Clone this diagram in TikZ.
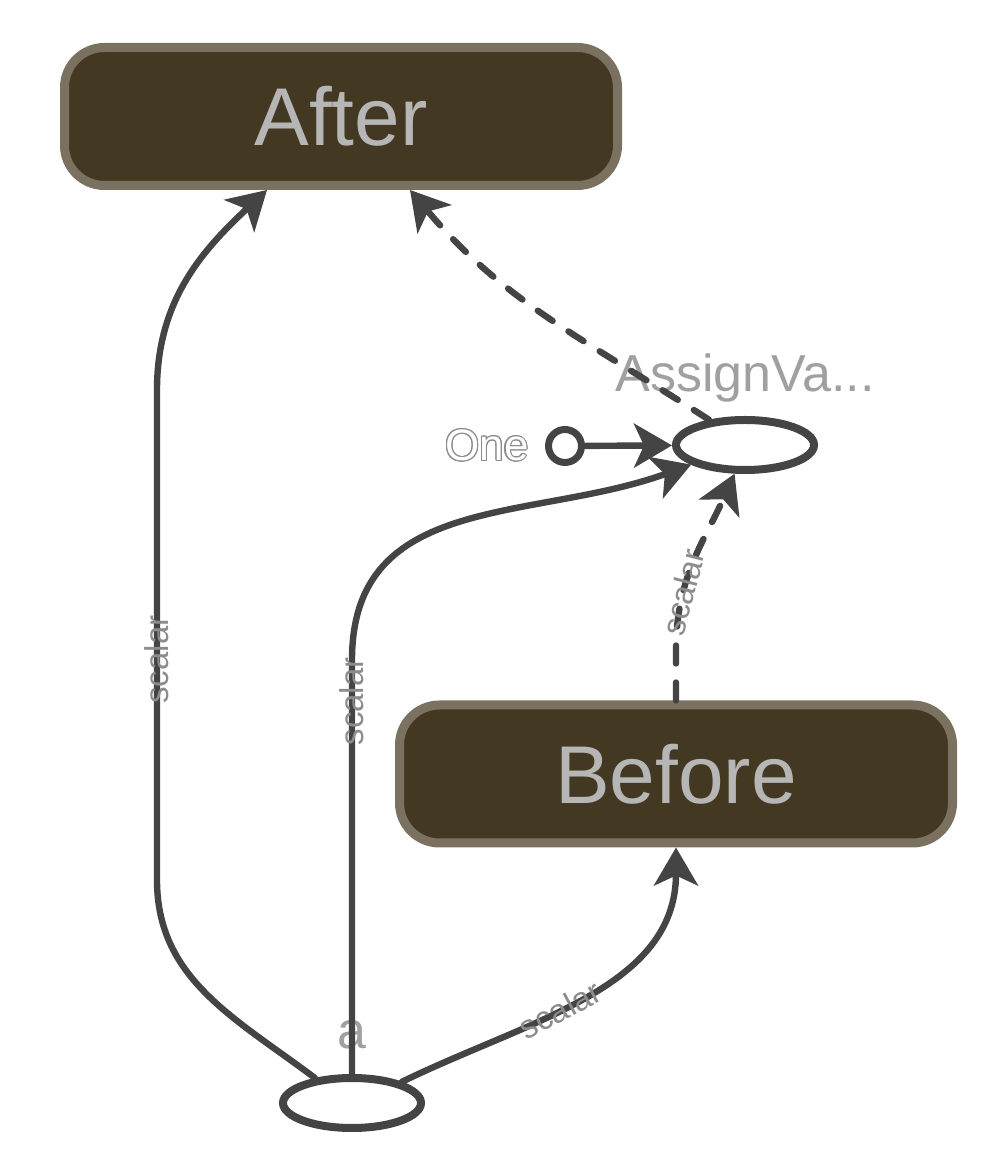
\documentclass[tikz,border=0pt]{standalone}
\usepackage{fontspec}
\setmainfont{Liberation Sans}
\usepackage{contour}
\contourlength{0.6pt}
\usetikzlibrary{arrows.meta,shapes.geometric}
\definecolor{boxfill}{RGB}{67,57,35}
\definecolor{boxline}{RGB}{122,113,96}
\definecolor{boxtext}{RGB}{182,182,182}
\definecolor{edgegray}{RGB}{68,68,68}
\definecolor{labelgray}{RGB}{140,140,140}
\definecolor{namegray}{RGB}{160,160,160}

\begin{document}
\begin{tikzpicture}[x=0.5pt,y=0.5pt,
	every node/.style={font=\fontsize{16.5}{16.5}\selectfont},
	cluster/.style={draw=boxline,fill=boxfill,line width=4.5pt,rounded corners=20pt,minimum width=276.5pt,minimum height=69pt,text=boxtext,font=\fontsize{41}{41}\selectfont},
	op/.style={draw=edgegray,ellipse,line width=4pt,minimum width=69pt,minimum height=25pt,inner sep=0pt},
	port/.style={draw=edgegray,circle,line width=3.5pt,minimum size=16.5pt,inner sep=0pt},
	flow/.style={draw=edgegray,line width=3.2pt,line cap=round,-{Stealth[length=19pt,width=22pt,inset=5pt]}},
	ctrl/.style={flow,dash pattern=on 9pt off 9.5pt},
	tag/.style={sloped,text=labelgray,inner sep=1pt}]
	\useasboundingbox (0,0) rectangle (986,1156);

	\node[cluster] (After) at (341,1039.5) {After};
	\node[cluster] (Before) at (676,382) {Before};
	\node[op] (assign) at (745,711) {};
	\node[op] (a) at (352,53) {};
	\node[port] (one) at (565,710) {};

	\node[text=namegray,font=\fontsize{26}{26}\selectfont] (assignname) at (745,778) {AssignVa...};
	\node[text=white,font=\fontsize{22}{22}\selectfont] (onename) at (487,710) {\contour{labelgray}{One}};
	\node[text=namegray,font=\fontsize{26}{26}\selectfont] (aname) at (352,121) {a};

	\draw[flow] (a.146) to[out=143,in=-90] (157,276) -- (157,766) node[tag,pos=.45]{scalar} to[out=90,in=-137] ([xshift=-37pt]After.south);
	\draw[flow] (a.north) -- (352,496) node[tag,pos=.9]{scalar} to[out=90,in=200,looseness=1.1] (assign.200);
	\draw[flow] (a.23) to[out=26,in=-90] node[tag,pos=.42]{scalar} (Before.south);
	\draw[ctrl] (Before.north) -- (676,506) to[out=90,in=246] node[tag,pos=.3]{scalar} (assign.250);
	\draw[ctrl] (assign.145) to[out=147,in=-50] ([xshift=34.5pt]After.south);
	\draw[flow] (one) -- (assign);
\end{tikzpicture}
\end{document}
